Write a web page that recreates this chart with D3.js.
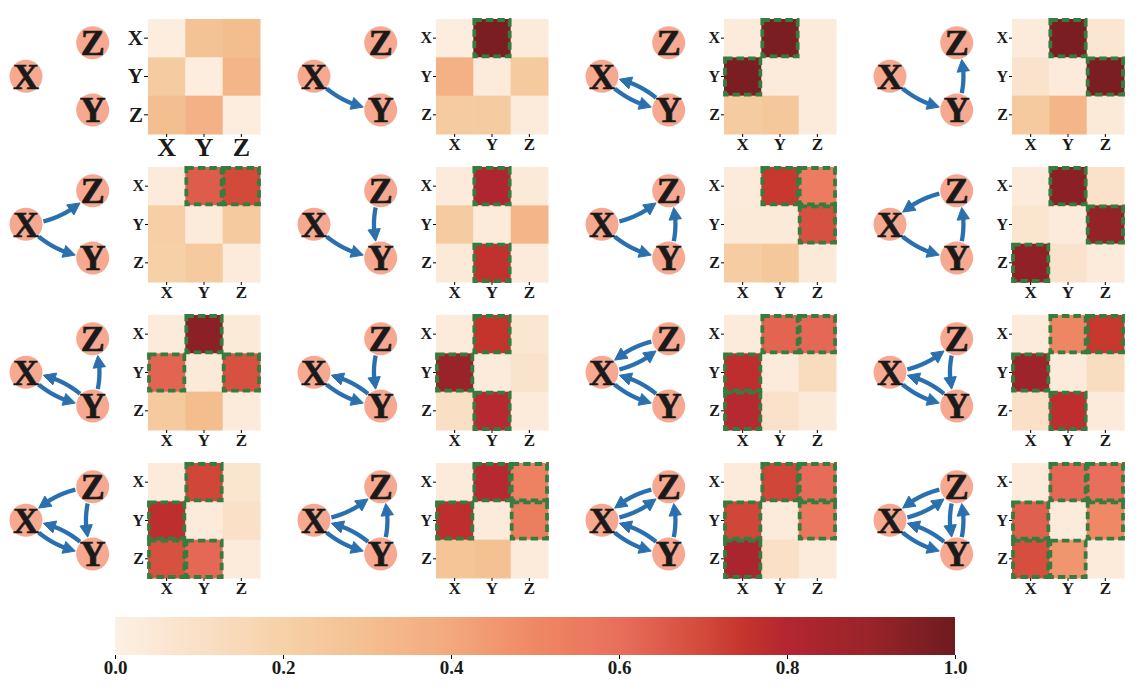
<!DOCTYPE html>
<html>
<head>
<meta charset="utf-8">
<script src="https://cdn.jsdelivr.net/npm/d3@7"></script>
<style>
  body { margin: 0; background: #fff; }
  svg { display: block; }
  text { font-family: "Liberation Serif", "Times New Roman", serif; font-weight: bold; }
</style>
</head>
<body>
<svg id="chart" width="1144" height="693"></svg>
<script>
// ---- data ----
const nodeNames = ["X", "Y", "Z"];

// edges of each of the 16 graphs (source -> target)
const edgeLists = [
  [],
  [["X","Y"]],
  [["X","Y"],["Y","X"]],
  [["X","Y"],["Y","Z"]],
  [["X","Y"],["X","Z"]],
  [["X","Y"],["Z","Y"]],
  [["X","Y"],["X","Z"],["Y","Z"]],
  [["X","Y"],["Y","Z"],["Z","X"]],
  [["X","Y"],["Y","X"],["Y","Z"]],
  [["X","Y"],["Y","X"],["Z","Y"]],
  [["X","Y"],["X","Z"],["Y","X"],["Z","X"]],
  [["X","Y"],["X","Z"],["Y","X"],["Z","Y"]],
  [["X","Y"],["Y","X"],["Z","X"],["Z","Y"]],
  [["X","Y"],["X","Z"],["Y","X"],["Y","Z"]],
  [["X","Y"],["X","Z"],["Y","X"],["Y","Z"],["Z","X"]],
  [["X","Y"],["X","Z"],["Y","X"],["Y","Z"],["Z","X"],["Z","Y"]]
];

// heatmap values (rows = source X,Y,Z ; cols = target X,Y,Z)
const matrices = [
  [[0.02,0.28,0.31],[0.23,0.02,0.34],[0.30,0.36,0.02]],
  [[0.02,0.97,0.03],[0.36,0.03,0.24],[0.23,0.23,0.03]],
  [[0.03,0.97,0.03],[0.97,0.03,0.03],[0.23,0.25,0.03]],
  [[0.03,0.97,0.06],[0.08,0.03,0.97],[0.24,0.34,0.04]],
  [[0.03,0.65,0.70],[0.21,0.03,0.24],[0.20,0.24,0.03]],
  [[0.03,0.81,0.04],[0.23,0.03,0.34],[0.04,0.76,0.03]],
  [[0.03,0.74,0.55],[0.04,0.04,0.68],[0.22,0.25,0.04]],
  [[0.03,0.93,0.09],[0.07,0.03,0.91],[0.92,0.08,0.03]],
  [[0.03,0.93,0.04],[0.63,0.04,0.68],[0.24,0.31,0.03]],
  [[0.03,0.75,0.06],[0.90,0.03,0.08],[0.11,0.79,0.03]],
  [[0.03,0.63,0.62],[0.77,0.03,0.13],[0.79,0.09,0.04]],
  [[0.03,0.51,0.74],[0.88,0.03,0.12],[0.10,0.77,0.03]],
  [[0.03,0.71,0.07],[0.77,0.03,0.10],[0.68,0.62,0.03]],
  [[0.03,0.79,0.53],[0.77,0.03,0.54],[0.27,0.29,0.03]],
  [[0.03,0.71,0.61],[0.71,0.03,0.57],[0.83,0.10,0.03]],
  [[0.03,0.62,0.60],[0.64,0.03,0.50],[0.69,0.46,0.03]]
];

const colorbarTicks = [0, 0.2, 0.4, 0.6, 0.8, 1.0];

// colormap
const cmapStops  = [0.0, 0.1, 0.2, 0.3, 0.4, 0.5, 0.6, 0.7, 0.75, 0.8, 0.9, 1.0];
const cmapColors = ["#fdf0e4","#f9e0c6","#f6d1a8","#f4bf90","#f3a87d","#ef8864",
                    "#e86f5b","#d34a3b","#c5342c","#b32631","#982429","#6e1b1f"];

// node layout in unit coordinates (like a networkx pos dict)
const nodeLayout = { X: [0, 0.5], Y: [1, 1], Z: [1, 0] };

// ---- setup ----
const svg = d3.select("#chart");
const color = d3.scaleLinear().domain(cmapStops).range(cmapColors).interpolate(d3.interpolateRgb).clamp(true);

const colPos = d3.scaleLinear().domain([0, 3]).range([0, 864]);
const rowPos = d3.scaleLinear().domain([0, 3]).range([0, 444]);

// within-panel layout
const gx = d3.scaleLinear().domain([0, 1]).range([26, 92.7]);
const gy = d3.scaleLinear().domain([0, 1]).range([42.7, 110]);
const nodeR = 16.5;

const hmX = d3.scaleBand().domain(nodeNames).range([148, 260]);
const hmY = d3.scaleBand().domain(nodeNames).range([19, 134]);

const arrowColor = "#2b70ae";
const borderColor = "#367c3e";
const serif = '"Liberation Serif", "Times New Roman", serif';

// quadratic bezier helpers (matplotlib arc3 style)
function bez(p0, c, p1, t) {
  const u = 1 - t;
  return [u*u*p0[0] + 2*u*t*c[0] + t*t*p1[0], u*u*p0[1] + 2*u*t*c[1] + t*t*p1[1]];
}
function drawArrow(g, a, b, rad) {
  const dx = b[0] - a[0], dy = b[1] - a[1];
  const c = [(a[0] + b[0]) / 2 - rad * dy, (a[1] + b[1]) / 2 + rad * dx];
  const N = 200;
  const pts = d3.range(N + 1).map(i => bez(a, c, b, i / N));
  const dist = (p, q) => Math.hypot(p[0] - q[0], p[1] - q[1]);
  let i0 = pts.findIndex(p => dist(p, a) >= nodeR + 1);
  let i1 = N; while (i1 > 0 && dist(pts[i1], b) < nodeR + 1) i1--;
  const tip = pts[i1];
  const headLen = 12, headW = 6.2;
  let ib = i1; while (ib > i0 && dist(pts[ib], tip) < headLen * 0.7) ib--;
  let ia = i1; while (ia > i0 && dist(pts[ia], tip) < headLen) ia--;
  const dir = [tip[0] - pts[ia][0], tip[1] - pts[ia][1]];
  const L = Math.hypot(dir[0], dir[1]);
  const ux = dir[0] / L, uy = dir[1] / L;
  const base = [tip[0] - ux * headLen, tip[1] - uy * headLen];
  g.append("path")
    .attr("d", d3.line()(pts.slice(i0, ib + 1)))
    .attr("fill", "none")
    .attr("stroke", arrowColor)
    .attr("stroke-width", 4.3);
  g.append("path")
    .attr("d", d3.line()([tip, [base[0] - uy * headW, base[1] + ux * headW], [base[0] + uy * headW, base[1] - ux * headW]]) + "Z")
    .attr("fill", arrowColor)
    .attr("stroke", arrowColor)
    .attr("stroke-width", 1)
    .attr("stroke-linejoin", "miter");
}

function styleTicks(axisG, size) {
  axisG.select(".domain").remove();
  axisG.attr("font-size", null).attr("font-family", null);
  axisG.selectAll("text")
    .style("font-size", size + "px")
    .style("font-family", serif)
    .style("font-weight", "bold")
    .attr("fill", "#1a1a1a");
}

// ---- panels ----
matrices.forEach((mat, k) => {
  const col = k % 4, row = Math.floor(k / 4);
  const g = svg.append("g").attr("transform", `translate(${colPos(col)},${rowPos(row)})`);
  const big = k === 0;

  // graph
  const pos = n => [gx(nodeLayout[n][0]), gy(nodeLayout[n][1])];
  const eg = g.append("g");
  edgeLists[k].forEach(e => drawArrow(eg, pos(e[0]), pos(e[1]), 0.2));

  const ng = g.selectAll(".node").data(nodeNames).enter().append("g")
    .attr("transform", d => `translate(${pos(d)[0]},${pos(d)[1]})`);
  ng.append("circle").attr("r", nodeR).attr("fill", "#f6a890");
  ng.append("text").attr("text-anchor", "middle").attr("dy", "0.34em")
    .style("font-size", "36px").attr("fill", "#1a1a1a")
    .attr("stroke", "#1a1a1a").attr("stroke-width", 0.6)
    .text(d => d);

  // heatmap
  const cells = [];
  mat.forEach((r, i) => r.forEach((v, j) => cells.push({ src: nodeNames[i], tgt: nodeNames[j], v })));
  g.selectAll(".cell").data(cells).enter().append("rect")
    .attr("x", d => hmX(d.tgt)).attr("y", d => hmY(d.src))
    .attr("width", hmX.bandwidth() + 0.5).attr("height", hmY.bandwidth() + 0.5)
    .attr("fill", d => color(d.v));

  g.selectAll(".edgebox").data(edgeLists[k]).enter().append("rect")
    .attr("x", d => hmX(d[1]) + 1).attr("y", d => hmY(d[0]) + 1)
    .attr("width", hmX.bandwidth() - 2).attr("height", hmY.bandwidth() - 2)
    .attr("fill", "none")
    .attr("stroke", borderColor)
    .attr("stroke-width", 3.8)
    .attr("stroke-dasharray", "7.5,4");

  const ay = g.append("g").attr("transform", `translate(${hmX.range()[0]},0)`)
    .call(d3.axisLeft(hmY).tickSize(big ? 4 : 3).tickPadding(1));
  styleTicks(ay, big ? 21 : 16);

  const ax = g.append("g").attr("transform", `translate(0,${hmY.range()[1]})`)
    .call(d3.axisBottom(hmX).tickSize(3).tickPadding(1));
  styleTicks(ax, big ? 26 : 17);
});

// ---- colorbar ----
const cbX = d3.scaleLinear().domain([0, 1]).range([115, 955]);
const cbTop = 617, cbH = 38;
const grad = svg.append("defs").append("linearGradient").attr("id", "cbgrad");
grad.selectAll("stop").data(d3.range(0, 1.0001, 0.02)).enter().append("stop")
  .attr("offset", d => d).attr("stop-color", d => color(d));
svg.append("rect").attr("x", cbX(0)).attr("y", cbTop)
  .attr("width", cbX(1) - cbX(0)).attr("height", cbH).attr("fill", "url(#cbgrad)");
const cba = svg.append("g").attr("transform", `translate(0,${cbTop + cbH})`)
  .call(d3.axisBottom(cbX).tickValues(colorbarTicks).tickFormat(d3.format(".1f")).tickSize(4).tickPadding(2));
styleTicks(cba, 19);
</script>
</body>
</html>
